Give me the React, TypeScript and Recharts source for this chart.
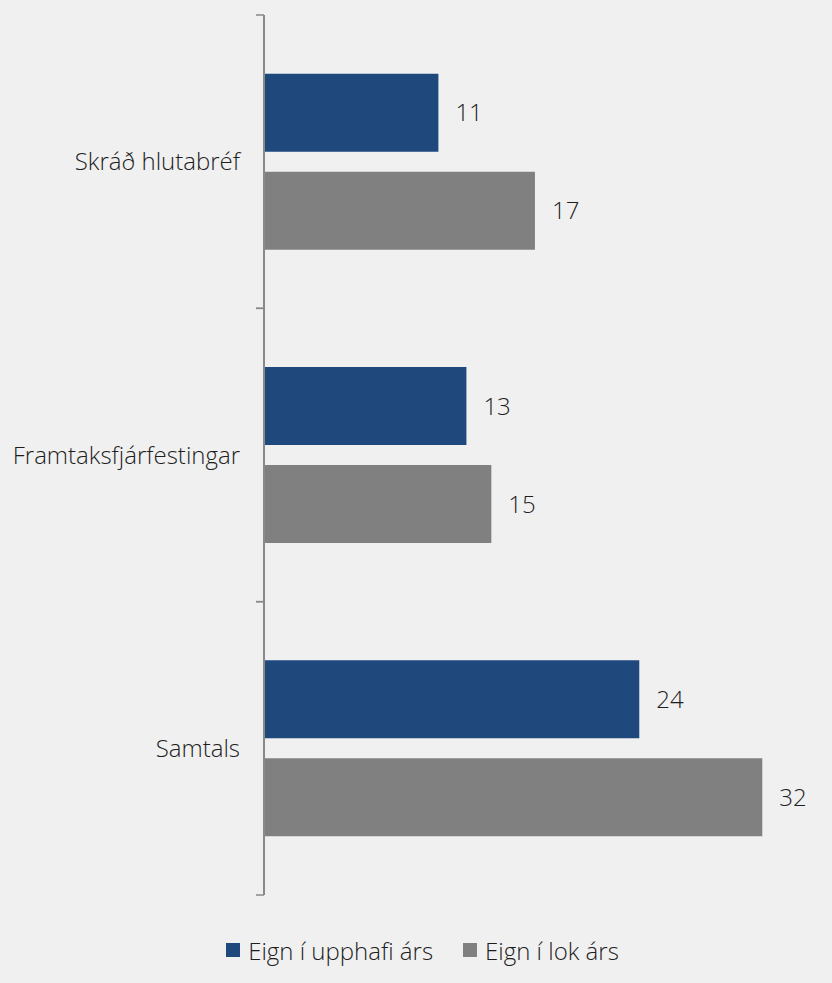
import { BarChart, Bar, XAxis, YAxis, Legend, LabelList } from 'recharts';

const CATEGORIES = ['Skráð hlutabréf', 'Framtaksfjárfestingar', 'Samtals'];
const START_OF_YEAR = [11.2, 13.0, 24.1];
const END_OF_YEAR = [17.4, 14.6, 32.0];
const SERIES_NAMES = ['Eign í upphafi árs', 'Eign í lok árs'];

const BLUE = '#1f497d';
const GREY = '#808080';
const AXIS = '#898989';
const TEXT = '#1e1e1e';
const FONT = '"Open Sans", sans-serif';
const FONT_SIZE = 24;

const TICK_SIZE = 8;
const TICK_MARGIN = 16;

const data = CATEGORIES.map((name, i) => ({
  name,
  start: START_OF_YEAR[i],
  end: END_OF_YEAR[i],
}));

function CategoryTick(props: any) {
  const { x, y, payload } = props;
  const axisX = x + TICK_SIZE + TICK_MARGIN;
  const half = payload?.offset ?? 0;
  return (
    <g>
      <line x1={axisX - TICK_SIZE} x2={axisX} y1={y - half} y2={y - half} stroke={AXIS} strokeWidth={1.5} />
      <line x1={axisX - TICK_SIZE} x2={axisX} y1={y + half} y2={y + half} stroke={AXIS} strokeWidth={1.5} />
      <text
        x={x}
        y={y - 1}
        textAnchor="end"
        dominantBaseline="central"
        fontSize={FONT_SIZE}
        fontWeight={300}
        fill={TEXT}
        fontFamily={FONT}
      >
        {payload.value}
      </text>
    </g>
  );
}

function LegendContent() {
  const items = [
    { name: SERIES_NAMES[0], color: BLUE },
    { name: SERIES_NAMES[1], color: GREY },
  ];
  return (
    <div
      style={{
        display: 'flex',
        justifyContent: 'center',
        alignItems: 'center',
        gap: 30,
        height: 30,
        marginTop: 40,
        paddingLeft: 36,
        fontFamily: FONT,
        fontSize: FONT_SIZE,
        fontWeight: 300,
        color: TEXT,
      }}
    >
      {items.map((it) => (
        <div key={it.name} style={{ display: 'flex', alignItems: 'center', gap: 8 }}>
          <span style={{ width: 14, height: 14, background: it.color, display: 'inline-block' }} />
          <span>{it.name}</span>
        </div>
      ))}
    </div>
  );
}

const labelStyle = { fontSize: FONT_SIZE, fontWeight: 300, fill: TEXT, fontFamily: FONT };

export default function App() {
  return (
    <div style={{ position: 'absolute', left: 0, top: 0, width: 832, height: 983, background: '#f0f0f0' }}>
      <BarChart
        width={832}
        height={983}
        data={data}
        layout="vertical"
        margin={{ top: 15, right: 23, left: 0, bottom: 18 }}
        barCategoryGap="20%"
        barGap={20}
      >
        <XAxis type="number" domain={[0, 35]} hide />
        <YAxis
          type="category"
          dataKey="name"
          width={264}
          axisLine={{ stroke: AXIS, strokeWidth: 2 }}
          tickLine={false}
          tickSize={TICK_SIZE}
          tickMargin={TICK_MARGIN}
          tick={<CategoryTick />}
          interval={0}
        />
        <Legend verticalAlign="bottom" height={70} content={<LegendContent />} />
        <Bar dataKey="start" name={SERIES_NAMES[0]} fill={BLUE} isAnimationActive={false}>
          <LabelList
            dataKey="start"
            position="right"
            offset={17}
            formatter={(v: any) => Number(v).toFixed(0)}
            style={labelStyle}
          />
        </Bar>
        <Bar dataKey="end" name={SERIES_NAMES[1]} fill={GREY} isAnimationActive={false}>
          <LabelList
            dataKey="end"
            position="right"
            offset={17}
            formatter={(v: any) => Number(v).toFixed(0)}
            style={labelStyle}
          />
        </Bar>
      </BarChart>
    </div>
  );
}
